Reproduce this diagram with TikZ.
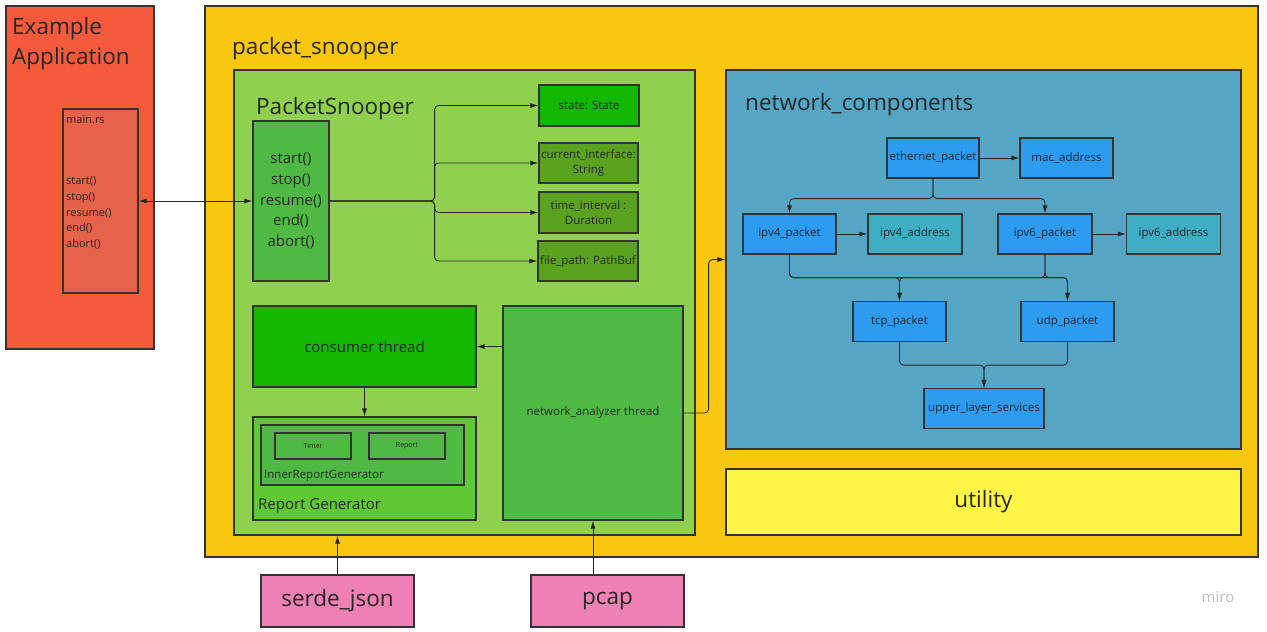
\documentclass[tikz,border=0pt]{standalone}
\usepackage{fontspec}
\setmainfont{Open Sans}
\usetikzlibrary{arrows.meta,positioning,calc}

\definecolor{appred}{HTML}{F55A3D}
\definecolor{mainred}{HTML}{E6624A}
\definecolor{snoopyellow}{HTML}{FAC710}
\definecolor{psgreen}{HTML}{8FD14F}
\definecolor{midgreen}{HTML}{4EBA43}
\definecolor{brightgreen}{HTML}{13B800}
\definecolor{fieldgreen}{HTML}{5BA21F}
\definecolor{repgreen}{HTML}{5FC832}
\definecolor{netblue}{HTML}{55A5C5}
\definecolor{pktblue}{HTML}{2D9BF0}
\definecolor{addrteal}{HTML}{3FAEC5}
\definecolor{utilyellow}{HTML}{FEF445}
\definecolor{cratepink}{HTML}{EE80B3}

\newcommand{\fsz}[1]{\fontsize{#1}{1.3\dimexpr#1pt\relax}\selectfont}

\begin{document}
\begin{tikzpicture}[x=1pt,y=-1pt,>={Latex[length=8pt,width=5pt]}]
    \tikzstyle{box}=[rectangle,draw=black!80,line width=1.2pt,inner sep=0pt,text=black!85,align=center]
    \tikzstyle{sz}=[minimum width=#1pt]
    \tikzstyle{ht}=[minimum height=#1pt]
    \tikzstyle{small}=[font=\fsz{11.5}]
    \tikzstyle{big}=[font=\fsz{22.5}]
    \tikzstyle{conn}=[->,line width=0.8pt,draw=black!85,rounded corners=4pt]

    \useasboundingbox[fill=white] (0,0) rectangle (1267,632);

    % containers
    \node[box,fill=appred,sz=148,ht=343] (exapp) at (80,177.5) {};
    \node[box,fill=mainred,sz=75,ht=184] (mainrs) at (100.5,201) {};
    \node[box,fill=snoopyellow,sz=1053,ht=551] (snooper) at (731.5,281.5) {};
    \node[box,fill=psgreen,sz=461,ht=465] (ps) at (464.5,302.5) {};
    \node[box,fill=netblue,sz=515,ht=379] (netcomp) at (983.5,259.5) {};
    \node[box,fill=utilyellow,sz=515,ht=66,big] (utility) at (983.5,502) {utility};

    \node[anchor=north west,font=\fsz{22.5},align=left,text=black!85,inner sep=0pt] (exapplabel) at (12,17)
        {Example\\[1pt]Application};
    \node[anchor=base west,font=\fsz{11},text=black!85,inner sep=0pt] (mainrslabel) at (66,123) {main.rs};
    \node[anchor=west,font=\fsz{11},align=left,text=black!85,inner sep=0pt] (mainrscalls) at (66,213)
        {start()\\[1.5pt]stop()\\[1.5pt]resume()\\[1.5pt]end()\\[1.5pt]abort()};
    \node[anchor=base west,big,text=black!85,inner sep=0pt] (snooperlabel) at (232,54) {packet\_snooper};
    \node[anchor=base west,big,text=black!85,inner sep=0pt] (pslabel) at (256,114) {PacketSnooper};
    \node[anchor=base west,big,text=black!85,inner sep=0pt] (netlabel) at (745,110) {network\_components};

    % PacketSnooper contents
    \node[box,fill=midgreen,sz=76,ht=160,font=\fsz{15}] (methods) at (291,201)
        {start()\\[1.2pt]stop()\\[1.2pt]resume()\\[1.2pt]end()\\[1.2pt]abort()};
    \node[box,fill=brightgreen,sz=100,ht=41,small] (state) at (589,105.5) {state: State};
    \node[box,fill=fieldgreen,sz=99,ht=40,small] (iface) at (588.5,163) {current\_interface:\\String};
    \node[box,fill=fieldgreen,sz=99,ht=41,small] (interval) at (588.5,212.5) {time\_interval :\\Duration};
    \node[box,fill=fieldgreen,sz=100,ht=40,small] (path) at (588,261) {file\_path: PathBuf};
    \coordinate (fork) at ([xshift=105pt]methods.east);

    \node[box,fill=brightgreen,sz=223,ht=81,font=\fsz{15}] (consumer) at (364.5,346.5) {consumer thread};
    \node[box,fill=midgreen,sz=180,ht=214,small] (analyzer) at (593,413) {network\_analyzer thread};
    \node[box,fill=repgreen,sz=223,ht=103] (repgen) at (364.5,468.5) {};
    \node[box,fill=midgreen,sz=203,ht=60] (inner) at (362.5,455) {};
    \node[box,fill=midgreen,sz=76,ht=26,font=\fsz{7}] (timer) at (313,446) {Timer};
    \node[box,fill=midgreen,sz=76,ht=26,font=\fsz{7}] (report) at (407,446) {Report};
    \node[anchor=base west,small,text=black!85,inner sep=0pt] (innerlabel) at (264,478) {InnerReportGenerator};
    \node[anchor=base west,font=\fsz{15},text=black!85,inner sep=0pt] (repgenlabel) at (258,509) {Report Generator};

    % network components
    \foreach \name/\x/\y/\w/\txt in {eth/933/158/92/ethernet\_packet, mac/1066.5/158/93/mac\_address,
            ipv4/789.5/234/93/ipv4\_packet, ipv6/1045/234/94/ipv6\_packet,
            tcp/899.5/321.5/93/tcp\_packet, udp/1067.5/321.5/93/udp\_packet,
            upper/984/408.5/120/upper\_layer\_services}
        \node[box,fill=pktblue,sz=\w,ht=40,small] (\name) at (\x,\y) {\txt};
    \foreach \name/\x/\txt in {ipv4a/915/ipv4\_address, ipv6a/1173.5/ipv6\_address}
        \node[box,fill=addrteal,sz=94,ht=40,small] (\name) at (\x,234) {\txt};

    % crates
    \node[box,fill=cratepink,sz=153,ht=52,big] (serde) at (337.5,601) {serde\_json};
    \node[box,fill=cratepink,sz=153,ht=52,big] (pcap) at (607.5,601) {pcap};
    \node[text=black!25,font=\fsz{15}] (miro) at (1218,597) {miro};

    % connectors
    \draw[conn,<->] (mainrs.east) -- (methods.west);
    \foreach \f in {state,iface,interval,path}
        \draw[conn] (methods.east) -- (fork) |- (\f.west);
    \draw[conn] (analyzer.west |- consumer.east) -- (consumer.east);
    \draw[conn] (consumer.south) -- (repgen.north);
    \draw[conn] (analyzer.east) -- ++(25,0) |- (netcomp.west);
    \draw[conn] (serde.north) -- (serde.north |- ps.south);
    \draw[conn] (analyzer.south |- pcap.north) -- (analyzer.south);

    \draw[conn] (eth.east) -- (mac.west);
    \draw[conn] (ipv4.east) -- (ipv4a.west);
    \draw[conn] (ipv6.east) -- (ipv6a.west);
    \foreach \from/\to in {eth/ipv4, eth/ipv6}
        \draw[conn] (\from.south) -- ++(0,20) -| (\to.north);
    \foreach \from/\to in {ipv4/tcp, ipv4/udp, ipv6/tcp, ipv6/udp}
        \draw[conn] (\from.south) -- ++(0,23) -| (\to.north);
    \foreach \from in {tcp, udp}
        \draw[conn] (\from.south) -- ++(0,23) -| (upper.north);
\end{tikzpicture}
\end{document}
